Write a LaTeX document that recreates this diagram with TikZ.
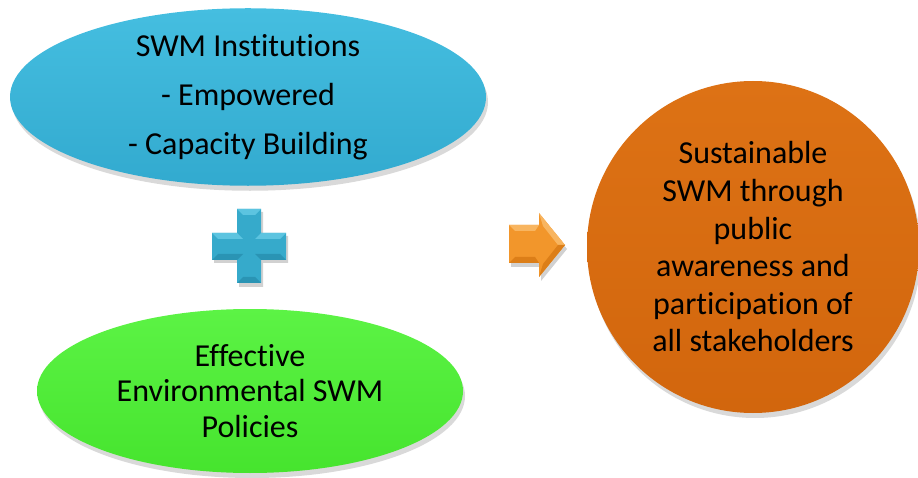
\documentclass[tikz,border=0pt]{standalone}
\usepackage{fontspec}
\setmainfont{Carlito}[Ligatures=NoCommon]
\usetikzlibrary{shapes.geometric,shadows}
\definecolor{bluetop}{HTML}{45BEE0}
\definecolor{bluebot}{HTML}{32AACF}
\definecolor{greentop}{HTML}{5CF345}
\definecolor{greenbot}{HTML}{46E42E}
\definecolor{orangetop}{HTML}{DD7215}
\definecolor{orangebot}{HTML}{D2660D}
\definecolor{plusblue}{HTML}{36AACB}
\definecolor{plusdark}{HTML}{2A94B4}
\definecolor{pluslight}{HTML}{5CC4E0}
\definecolor{arroworange}{HTML}{F2962B}
\definecolor{arrowlight}{HTML}{F8B560}
\definecolor{arrowdark}{HTML}{DC7E18}
\tikzset{
  shapebox/.style={inner sep=0pt, align=center, text=black,
    drop shadow={shadow xshift=2pt, shadow yshift=-5pt, opacity=0.25, fill=black!60}},
}
\begin{document}
\begin{tikzpicture}[x=1pt,y=-1pt]
\useasboundingbox (0,0) rectangle (918,478);
% blue ellipse
\node[shapebox, ellipse, minimum width=476pt, minimum height=166pt,
  top color=bluetop, bottom color=bluebot,
  font=\fontsize{32}{49}\selectfont] (inst) at (248,97)
  {SWM Institutions\\- Empowered\\- Capacity Building};
% green ellipse
\node[shapebox, ellipse, minimum width=426pt, minimum height=164pt,
  top color=greentop, bottom color=greenbot,
  font=\fontsize{32}{35.5}\selectfont] (pol) at (250,391)
  {Effective\\Environmental SWM\\Policies};
% orange circle
\node[shapebox, circle, minimum size=332pt,
  top color=orangetop, bottom color=orangebot,
  font=\fontsize{32}{37.6}\selectfont] (goal) at (753,247)
  {Sustainable\\SWM through\\public\\awareness and\\participation of\\all stakeholders};
% plus sign
\fill[black, opacity=0.18] (239,212) -- (263,212) -- (263,236) -- (288,236) -- (288,263) -- (263,263) -- (263,287) -- (239,287) -- (239,263) -- (214,263) -- (214,236) -- (239,236) -- cycle;
\fill[plusblue] (237,209) -- (261,209) -- (261,233) -- (286,233) -- (286,260) -- (261,260) -- (261,283) -- (237,283) -- (237,260) -- (212,260) -- (212,233) -- (237,233) -- cycle;
\fill[pluslight] (237,209) -- (261,209) -- (255,215) -- (243,215) -- cycle;
\fill[pluslight] (212,233) -- (237,233) -- (243,239) -- (218,239) -- cycle;
\fill[pluslight] (261,233) -- (286,233) -- (280,239) -- (255,239) -- cycle;
\fill[plusdark] (212,260) -- (237,260) -- (243,254) -- (218,254) -- cycle;
\fill[plusdark] (261,260) -- (286,260) -- (280,254) -- (255,254) -- cycle;
\fill[plusdark] (237,283) -- (261,283) -- (255,277) -- (243,277) -- cycle;
% arrow
\fill[black, opacity=0.18] (511,229) -- (541,229) -- (541,217) -- (567,249) -- (541,281) -- (541,267) -- (511,267) -- cycle;
\fill[arroworange] (509,225) -- (539,225) -- (539,213) -- (565,245) -- (539,277) -- (539,263) -- (509,263) -- cycle;
\fill[arrowlight] (509,225) -- (539,225) -- (535,231) -- (515,231) -- cycle;
\fill[arrowlight] (539,213) -- (565,245) -- (558,245) -- (543,226) -- cycle;
\fill[arrowdark] (509,263) -- (539,263) -- (535,257) -- (515,257) -- cycle;
\fill[arrowdark] (539,277) -- (565,245) -- (558,245) -- (543,264) -- cycle;
\end{tikzpicture}
\end{document}
